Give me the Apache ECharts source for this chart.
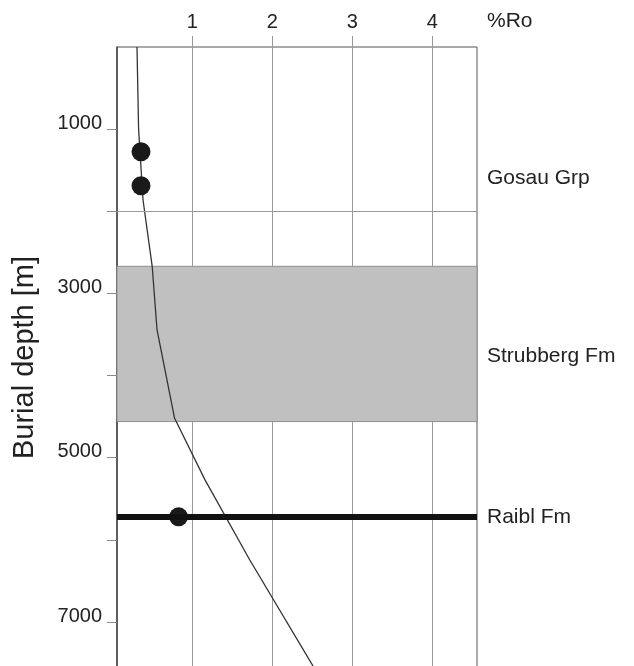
<!DOCTYPE html>
<html><head><meta charset="utf-8">
<script src="https://cdn.jsdelivr.net/npm/echarts@6/dist/echarts.min.js"></script>
<style>html,body{margin:0;padding:0;background:#fff}#c{width:634px;height:666px}</style>
</head><body><div id="c"></div>
<script>
// Modelled vitrinite reflectance curve (%Ro vs burial depth)
const roModel = [0.31, 0.33, 0.385, 0.50, 0.56, 0.78, 1.16, 1.72, 2.525];
const depthModel = [0, 1000, 1860, 2670, 3440, 4520, 5270, 6245, 7560];
// Measured samples
const roMeasured = [0.36, 0.36, 0.83];
const depthMeasured = [1275, 1690, 5720];
// Formations
const formations = ['Gosau Grp', 'Strubberg Fm', 'Raibl Fm'];
const formationLabelDepth = [1600, 3770, 5720];
const gosauBase = 2000;
const strubbergTop = 2670;
const strubbergBase = 4560;
const raiblDepth = 5720;
// Axes
const xTickLabels = [1, 2, 3, 4];
const yTickValues = [1000, 2000, 3000, 4000, 5000, 6000, 7000];
const yTickLabels = [1000, 3000, 5000, 7000];
const xMin = 0.06, xMax = 4.56, yMin = 0, yMax = 7560;

const chart = echarts.init(document.getElementById('c'), null, {renderer: 'canvas'});
const textColor = '#222';
const option = {
  animation: false,
  backgroundColor: '#ffffff',
  textStyle: {fontFamily: 'Liberation Sans, Arial, sans-serif'},
  grid: {left: 117, right: 157, top: 47, bottom: -2, show: true, borderColor: '#555', borderWidth: 1,
    backgroundColor: 'transparent', containLabel: false, outerBoundsMode: 'none'},
  xAxis: {
    type: 'value', position: 'top', min: xMin, max: xMax, splitNumber: 5,
    name: '%Ro', nameLocation: 'end', nameGap: 10,
    nameTextStyle: {fontSize: 21, color: textColor, verticalAlign: 'bottom', lineHeight: 52},
    axisLine: {show: false},
    axisTick: {show: true, inside: false, length: 11, customValues: xTickLabels, lineStyle: {color: '#9a9a9a'}},
    axisLabel: {customValues: xTickLabels, fontSize: 20, color: textColor, margin: 15},
    splitLine: {show: true, lineStyle: {color: '#9a9a9a', width: 1}}
  },
  yAxis: {
    type: 'value', inverse: true, min: yMin, max: yMax, interval: 1000,
    name: 'Burial depth [m]', nameLocation: 'middle', nameGap: 78, nameRotate: 90,
    nameTextStyle: {fontSize: 29, color: textColor},
    axisLine: {show: true, lineStyle: {color: '#444', width: 1.5}},
    axisTick: {show: true, length: 10, customValues: yTickValues, lineStyle: {color: '#8a8a8a'}},
    axisLabel: {customValues: yTickLabels, fontSize: 20, color: textColor, margin: 15,
      verticalAlign: 'bottom', lineHeight: 12, formatter: v => String(v)},
    splitLine: {show: false}
  },
  series: [
    {
      type: 'line', z: -1, data: [], silent: true,
      markArea: {
        silent: true,
        itemStyle: {color: '#c0c0c0', borderColor: '#8f8f8f', borderWidth: 1},
        data: [[{yAxis: strubbergTop}, {yAxis: strubbergBase}]]
      }
    },
    {
      type: 'line', data: [], silent: true, z: 1,
      markLine: {
        silent: true, symbol: ['none', 'none'], label: {show: false},
        data: [
          {yAxis: gosauBase, lineStyle: {color: '#9a9a9a', width: 1, type: 'solid'}},
          {yAxis: raiblDepth, lineStyle: {color: '#111', width: 6, type: 'solid'}}
        ]
      }
    },
    {
      type: 'line', z: 3, showSymbol: false, smooth: false,
      data: roModel.map((r, i) => [r, depthModel[i]]),
      lineStyle: {color: '#333', width: 1.3}
    },
    {
      type: 'scatter', z: 4, symbolSize: 19,
      data: roMeasured.map((r, i) => [r, depthMeasured[i]]),
      itemStyle: {color: '#1a1a1a', opacity: 1}
    },
    {
      type: 'scatter', z: 4, symbolSize: 0, clip: false, silent: true,
      data: formations.map((f, i) => ({name: f, value: [xMax, formationLabelDepth[i]]})),
      itemStyle: {opacity: 1},
      label: {show: true, position: 'right', distance: 10, formatter: p => p.name, fontSize: 21, color: textColor}
    }
  ]
};
chart.setOption(option);
</script>
</body></html>
